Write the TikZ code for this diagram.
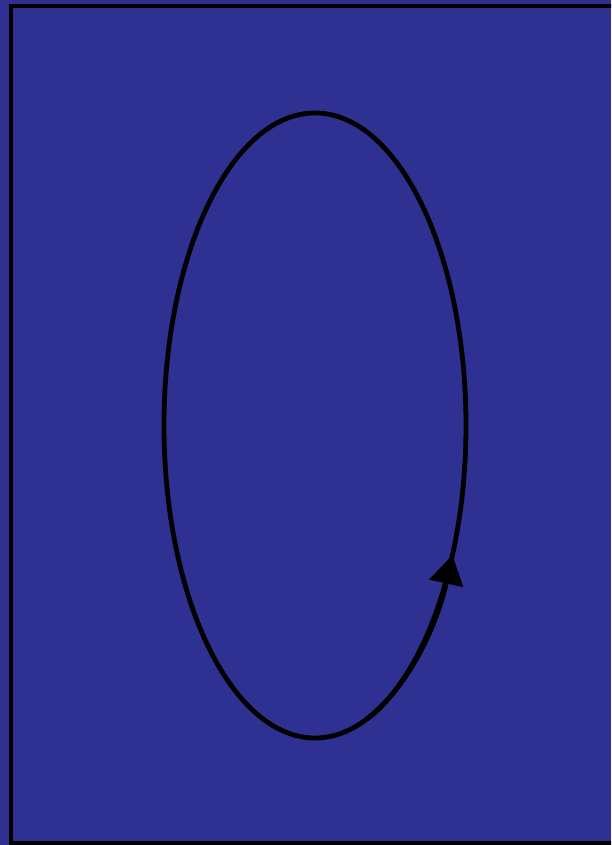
\documentclass[tikz,border=0pt]{standalone}
\usetikzlibrary{arrows.meta}
\definecolor{bgblue}{RGB}{46,49,146}
\begin{document}
\begin{tikzpicture}[x=1pt,y=1pt,
  frameline/.style={line width=4.5pt, black},
  loopline/.style={line width=4.8pt, black},
  looparrow/.style={line width=4.8pt, black, -{Triangle[length=29pt,width=34pt]}}]
\useasboundingbox (0,0) rectangle (611,845);
\fill[bgblue] (0,0) rectangle (611,845);
\begin{scope}
\clip (0,0) rectangle (611,845);
\draw[frameline] (640,839) -- (11,839) -- (11,2) -- (640,2);
\end{scope}
\coordinate (c) at (315,419.5);
\draw[loopline] (c) ellipse [x radius=151, y radius=312.5];
\draw[looparrow] ([shift={(-70:151 and 312.5)}]c) arc[start angle=-70, end angle=-24.5, x radius=151, y radius=312.5];
\end{tikzpicture}
\end{document}
